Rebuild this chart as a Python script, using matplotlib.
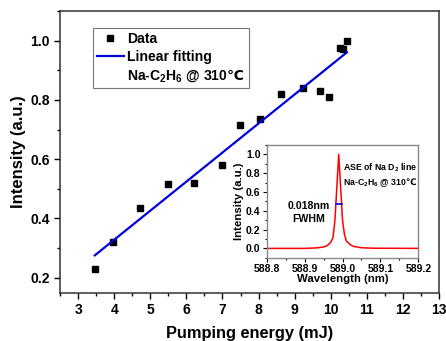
import numpy as np
import matplotlib
matplotlib.use("Agg")
import matplotlib.pyplot as plt
from matplotlib.ticker import MultipleLocator

plt.rcParams['font.family'] = ['Liberation Sans', 'DejaVu Sans']
plt.rcParams['font.weight'] = 'bold'
plt.rcParams['mathtext.fontset'] = 'custom'
plt.rcParams['mathtext.rm'] = 'Liberation Sans:bold'
plt.rcParams['mathtext.bf'] = 'Liberation Sans:bold'
plt.rcParams['mathtext.it'] = 'Liberation Sans:bold'
plt.rcParams['mathtext.sf'] = 'DejaVu Sans'
plt.rcParams['mathtext.default'] = 'bf'

# main data: output intensity vs pump energy
energy = [3.46, 3.95, 4.70, 5.48, 6.20, 7.00, 7.48, 8.03, 8.61, 9.24, 9.70, 9.96, 10.25, 10.33, 10.45]
intensity = [0.231, 0.320, 0.435, 0.516, 0.518, 0.580, 0.716, 0.737, 0.821, 0.840, 0.830, 0.810, 0.975, 0.970, 1.000]

# inset: ASE spectrum
wavelength = [588.80, 588.90, 588.93, 588.95, 588.96, 588.97, 588.975, 588.98, 588.985,
              588.99, 588.995, 589.00, 589.005, 589.01, 589.02, 589.03, 589.05, 589.08, 589.20]
spectrum = [0.0, 0.0, 0.005, 0.015, 0.03, 0.07, 0.12, 0.30, 0.65,
            1.0, 0.65, 0.30, 0.15, 0.08, 0.04, 0.02, 0.007, 0.002, 0.0]
fwhm_x = [588.982, 588.999]
fwhm_y = [0.47, 0.47]

deg = r'$\mathsf{℃}$'

fig = plt.figure(figsize=(4.46, 3.41), dpi=100)
ax = fig.add_axes([0.135, 0.142, 0.849, 0.826])

ax.plot(energy, intensity, 's', color='black', ms=4.4, label='Data')
k, b = np.polyfit(energy, intensity, 1)
xf = np.array([energy[0], energy[-1]])
ax.plot(xf, k * xf + b, color='#0000dd', lw=1.6, label='Linear fitting')
ax.plot([], [], ' ', label='Na-C$_2$H$_6$ @ 310' + deg)

ax.set_xlim(2.5, 13)
ax.set_ylim(0.15, 1.1)
ax.xaxis.set_major_locator(MultipleLocator(1))
ax.xaxis.set_minor_locator(MultipleLocator(0.5))
ax.yaxis.set_major_locator(MultipleLocator(0.2))
ax.yaxis.set_minor_locator(MultipleLocator(0.1))
ax.tick_params(which='both', direction='out', labelsize=10, width=1)
ax.tick_params(which='major', length=4)
ax.tick_params(which='minor', length=2.5)
for s in ax.spines.values():
    s.set_color('#333333')
    s.set_linewidth(1.1)
ax.set_xlabel('Pumping energy (mJ)', fontsize=11.8, fontweight='bold', labelpad=6.5)
ax.set_ylabel('Intensity (a.u.)', fontsize=12, fontweight='bold', labelpad=3)

leg = ax.legend(loc='upper left', bbox_to_anchor=(0.086, 0.939), fontsize=10.1,
                frameon=True, fancybox=False, handlelength=1.9, handletextpad=0.25,
                borderpad=0.3, labelspacing=0.25, borderaxespad=0)
leg.get_frame().set_edgecolor('#555555')
leg.get_frame().set_linewidth(0.8)

# inset
ins = fig.add_axes([0.598, 0.244, 0.340, 0.331])
ins.plot(wavelength, spectrum, color='red', lw=1.1)
ins.plot(fwhm_x, fwhm_y, color='#0000dd', lw=1.2)
ins.set_xlim(588.8, 589.2)
ins.set_ylim(-0.1, 1.1)
ins.xaxis.set_major_locator(MultipleLocator(0.1))
ins.xaxis.set_minor_locator(MultipleLocator(0.05))
ins.yaxis.set_major_locator(MultipleLocator(0.2))
ins.yaxis.set_minor_locator(MultipleLocator(0.1))
ins.xaxis.set_major_formatter(plt.FormatStrFormatter('%.1f'))
ins.yaxis.set_major_formatter(plt.FormatStrFormatter('%.1f'))
ins.tick_params(which='both', direction='out', labelsize=7.5, width=0.8, pad=1.5)
ins.tick_params(which='major', length=3)
ins.tick_params(which='minor', length=1.5)
for s in ins.spines.values():
    s.set_color('#888888')
    s.set_linewidth(1)
ins.set_xlabel('Wavelength (nm)', fontsize=8.2, fontweight='bold', labelpad=0)
ins.set_ylabel('Intensity (a.u.)', fontsize=8.2, fontweight='bold', labelpad=1)
ins.text(589.0, 0.86, 'ASE of Na D$_2$ line', fontsize=6.3, va='center', ha='left')
ins.text(589.0, 0.70, 'Na-C$_2$H$_6$ @ 310' + deg, fontsize=6.3, va='center', ha='left')
ins.text(588.91, 0.45, '0.018nm', fontsize=7.6, va='center', ha='center')
ins.text(588.91, 0.31, 'FWHM', fontsize=7.6, va='center', ha='center')

fig.savefig('out.png', dpi=100)
